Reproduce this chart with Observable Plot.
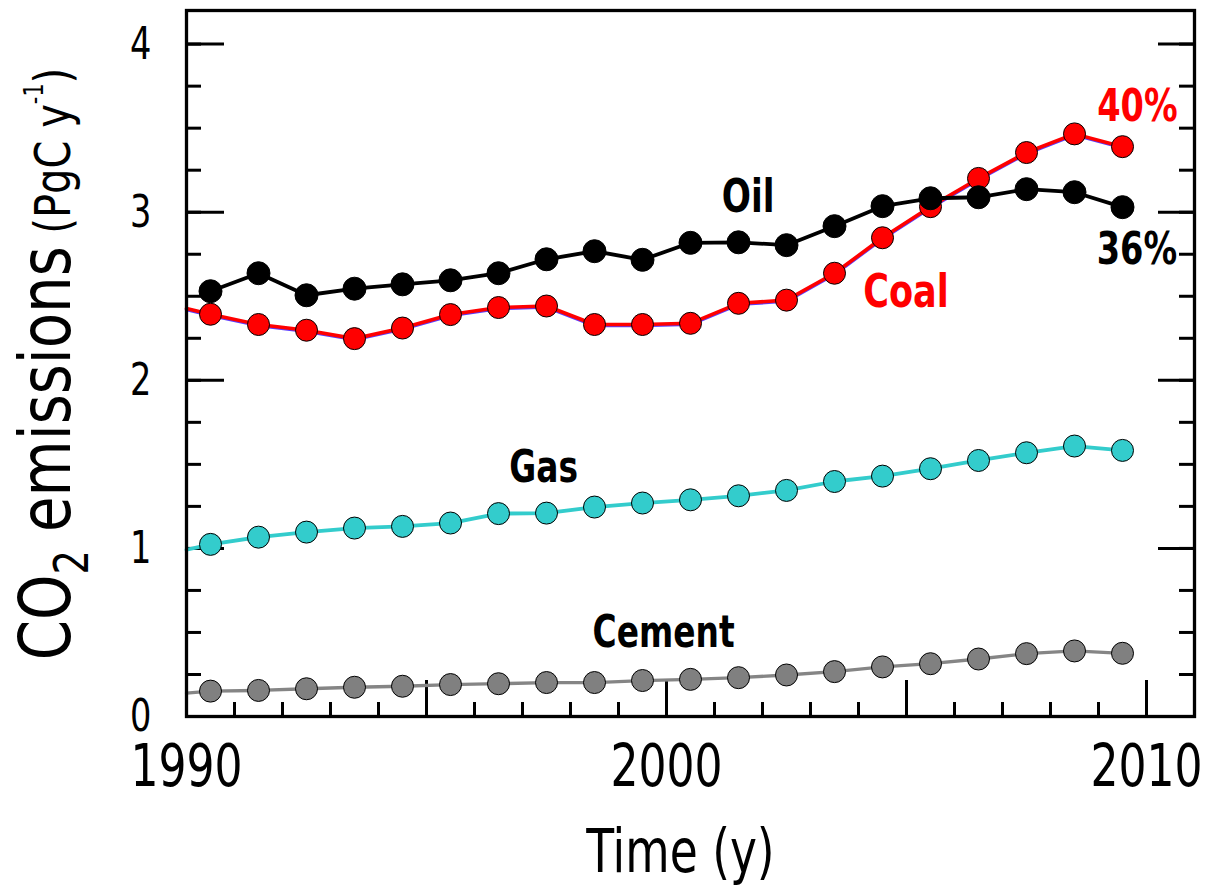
<!DOCTYPE html>
<html>
<head>
<meta charset="utf-8">
<script src="https://cdn.jsdelivr.net/npm/d3@7"></script>
<script src="https://cdn.jsdelivr.net/npm/@observablehq/plot@0.6"></script>
<style>
  html, body { margin: 0; padding: 0; background: #fff; }
  #chart svg { display: block; }
</style>
</head>
<body>
<div id="chart"></div>
<script>
// ---- data ----
const years = [1990.5, 1991.5, 1992.5, 1993.5, 1994.5, 1995.5, 1996.5, 1997.5, 1998.5, 1999.5,
               2000.5, 2001.5, 2002.5, 2003.5, 2004.5, 2005.5, 2006.5, 2007.5, 2008.5, 2009.5];
const oil    = [2.530, 2.637, 2.506, 2.545, 2.571, 2.595, 2.637, 2.720, 2.768, 2.717,
                2.818, 2.821, 2.804, 2.917, 3.036, 3.083, 3.089, 3.137, 3.119, 3.030];
const coal   = [2.393, 2.332, 2.298, 2.248, 2.311, 2.391, 2.433, 2.442, 2.332, 2.332,
                2.339, 2.458, 2.477, 2.637, 2.848, 3.033, 3.201, 3.355, 3.466, 3.390];
const gas    = [1.024, 1.067, 1.097, 1.121, 1.131, 1.151, 1.207, 1.210, 1.246, 1.270,
                1.289, 1.313, 1.345, 1.398, 1.430, 1.474, 1.523, 1.569, 1.609, 1.583];
const cement = [0.151, 0.155, 0.165, 0.174, 0.180, 0.190, 0.195, 0.202, 0.202, 0.214,
                0.221, 0.231, 0.247, 0.267, 0.295, 0.314, 0.342, 0.374, 0.390, 0.376];
// lines for coal, gas and cement continue to the left axis
const lineStartYear = 1990;
const coalStart = 2.427;
const gasStart = 0.992;
const cementStart = 0.139;

// ticks
const xMinorTicks = [1991, 1992, 1993, 1994, 1995, 1996, 1997, 1998, 1999, 2000,
                     2001, 2002, 2003, 2004, 2005, 2006, 2007, 2008, 2009, 2010];
const xMajorTicks = [1995, 2000, 2005, 2010];
const xTickLabels = [1990, 2000, 2010];
const yMinorTicks = [0.25, 0.5, 0.75, 1, 1.25, 1.5, 1.75, 2, 2.25, 2.5, 2.75, 3, 3.25, 3.5, 3.75, 4];
const yMajorTicks = [1, 2, 3, 4];
const yTickLabels = [0, 1, 2, 3, 4];

// annotations
const labelText  = ["Oil", "Coal", "40%", "36%", "Gas", "Cement"];
const labelYear  = [2001.70, 2004.99, 2009.81, 2009.80, 1997.44, 1999.94];
const labelValue = [3.002, 2.435, 3.542, 2.693, 1.395, 0.4125];

// ---- build ----
const FONT = '"Liberation Sans Narrow", "Arial Narrow", "DejaVu Sans Condensed", sans-serif';
const rows = (arr) => years.map((x, i) => ({x, y: arr[i]}));
const lineRows = (start, arr) => [{x: lineStartYear, y: start}, ...rows(arr)];
const labels = labelText.map((t, i) => ({t, x: labelYear[i], y: labelValue[i]}));
const labelColor = {"Oil": "black", "Coal": "#ff0000", "40%": "#ff0000", "36%": "black", "Gas": "black", "Cement": "black"};
const labelSize = {"Oil": 46, "Coal": 47, "40%": 45, "36%": 45, "Gas": 44, "Cement": 44};

const W = 1216, H = 887;
const mLeft = 186, mRight = 22, mTop = 10, mBottom = 171;
const frameW = W - mLeft - mRight;
const frameH = H - mTop - mBottom;

const dotR = 11;

const plot = Plot.plot({
  width: W,
  height: H,
  marginLeft: mLeft,
  marginRight: mRight,
  marginTop: mTop,
  marginBottom: mBottom,
  x: {domain: [1990, 2011], axis: null},
  y: {domain: [0, 4.2], axis: null},
  style: {fontFamily: FONT, background: "white", overflow: "visible"},
  marks: [
    // ticks (inside)
    Plot.tickX(xMinorTicks, {x: d => d, insetTop: frameH - 14, stroke: "black", strokeWidth: 3}),
    Plot.tickX(xMajorTicks, {x: d => d, insetTop: frameH - 36, stroke: "black", strokeWidth: 3}),
    Plot.tickY(yMinorTicks, {y: d => d, insetRight: frameW - 15, stroke: "black", strokeWidth: 3}),
    Plot.tickY(yMajorTicks, {y: d => d, insetRight: frameW - 38, stroke: "black", strokeWidth: 3}),
    Plot.tickY(yMinorTicks, {y: d => d, insetLeft: frameW - 15, stroke: "black", strokeWidth: 3}),
    Plot.tickY(yMajorTicks, {y: d => d, insetLeft: frameW - 36, stroke: "black", strokeWidth: 3}),

    // cement
    Plot.line(lineRows(cementStart, cement), {x: "x", y: "y", stroke: "#858585", strokeWidth: 3.3}),
    Plot.dot(rows(cement), {x: "x", y: "y", r: dotR, fill: "#808080", stroke: "black", strokeWidth: 1}),
    // gas
    Plot.line(lineRows(gasStart, gas), {x: "x", y: "y", stroke: "#33cccc", strokeWidth: 3.8}),
    Plot.dot(rows(gas), {x: "x", y: "y", r: dotR, fill: "#33cccc", stroke: "black", strokeWidth: 1}),
    // coal
    Plot.line(lineRows(coalStart, coal), {x: "x", y: "y", stroke: "#5a3cff", strokeWidth: 3.5, dy: 1}),
    Plot.line(lineRows(coalStart, coal), {x: "x", y: "y", stroke: "#ff0000", strokeWidth: 3.6}),
    Plot.dot(rows(coal), {x: "x", y: "y", r: dotR, fill: "#ff0000", stroke: "black", strokeWidth: 1}),
    // oil
    Plot.line(rows(oil), {x: "x", y: "y", stroke: "black", strokeWidth: 3.8}),
    Plot.dot(rows(oil), {x: "x", y: "y", r: dotR + 0.5, fill: "black", stroke: "black", strokeWidth: 1}),

    // series labels
    ...labels.map(d => Plot.text([d], {
      x: "x", y: "y", text: "t", textAnchor: "middle", lineAnchor: "bottom",
      fill: labelColor[d.t], fontSize: labelSize[d.t], fontWeight: "bold", fontFamily: FONT
    })),

    // x tick labels
    Plot.text(xTickLabels, {x: d => d, text: d => String(d), frameAnchor: "bottom", dy: 69,
      lineAnchor: "bottom", textAnchor: "middle", fontSize: 59, fill: "black", fontFamily: FONT}),
    // y tick labels
    Plot.text(yTickLabels, {y: d => d, text: d => String(d), frameAnchor: "left", dx: -35,
      lineAnchor: "middle", textAnchor: "end", fontSize: 45, fill: "black", fontFamily: FONT}),
    // x axis title
    Plot.text(["Time (y)"], {frameAnchor: "bottom", dy: 155, dx: -10, lineAnchor: "bottom",
      textAnchor: "middle", fontSize: 61, fill: "black", fontFamily: FONT}),

    // frame
    Plot.frame({stroke: "black", strokeWidth: 3.3})
  ]
});

document.getElementById("chart").appendChild(plot);

// condense the text horizontally around each text's anchor (narrow typeface look)
const CONDENSE = 0.83;
d3.select(plot).selectAll("g[aria-label='text'] text").each(function() {
  const x = +this.getAttribute("x") || 0;
  const tr = this.getAttribute("transform") || "";
  this.setAttribute("transform", `${tr} translate(${x},0) scale(${CONDENSE},1) translate(${-x},0)`);
});

// y axis title with subscript / superscript
const t = d3.select(plot).append("text")
  .attr("transform", "translate(70,364) rotate(-90) scale(0.89,1)")
  .attr("text-anchor", "middle")
  .attr("font-family", FONT)
  .attr("fill", "black");
t.append("tspan").attr("font-size", 72).text("CO");
t.append("tspan").attr("font-size", 48).attr("dy", 18).text("2");
t.append("tspan").attr("font-size", 72).attr("dy", -18).text(" emissions");
t.append("tspan").attr("font-size", 50).text(" (PgC y");
t.append("tspan").attr("font-size", 26).attr("dy", -27).text("-1");
t.append("tspan").attr("font-size", 50).attr("dy", 27).text(")");
</script>
</body>
</html>
